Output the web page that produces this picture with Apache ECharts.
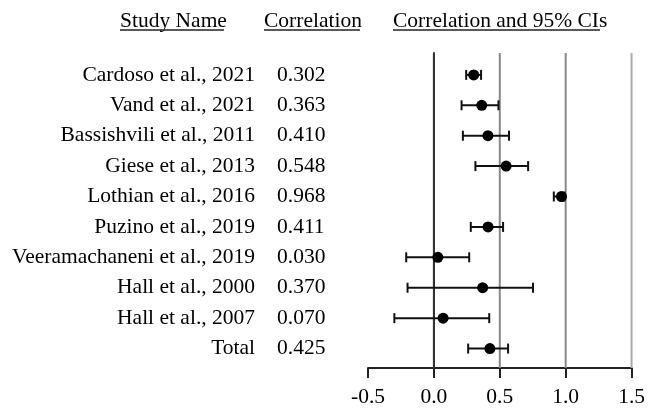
<!DOCTYPE html>
<html>
<head>
<meta charset="utf-8">
<script src="https://cdn.jsdelivr.net/npm/echarts@6/dist/echarts.min.js"></script>
<style>html,body{margin:0;padding:0;background:#fff}#c{width:648px;height:412px}</style>
</head>
<body>
<div id="c"></div>
<script>
var studyNames = ['Cardoso et al., 2021','Vand et al., 2021','Bassishvili et al., 2011','Giese et al., 2013','Lothian et al., 2016','Puzino et al., 2019','Veeramachaneni et al., 2019','Hall et al., 2000','Hall et al., 2007','Total'];
var correlations = [0.302, 0.363, 0.410, 0.548, 0.968, 0.411, 0.030, 0.370, 0.070, 0.425];
var ciLower = [0.245, 0.21, 0.22, 0.315, 0.91, 0.28, -0.21, -0.20, -0.30, 0.26];
var ciUpper = [0.358, 0.49, 0.57, 0.715, 0.99, 0.525, 0.268, 0.752, 0.42, 0.563];
var xTicks = [-0.5, 0.0, 0.5, 1.0, 1.5];
var headers = ['Study Name', 'Correlation', 'Correlation and 95% CIs'];

var FONT = '"Liberation Serif", "Times New Roman", serif';
var FS = '21.5px ';
var chart = echarts.init(document.getElementById('c'), null, {renderer: 'canvas'});

var rows = studyNames.map(function (n, i) { return [i, correlations[i], ciLower[i], ciUpper[i]]; });
var xMin = xTicks[0], xMax = xTicks[xTicks.length - 1];

function gridLineColor(v) {
  if (v <= 0) return '#333';
  if (v >= 1.5) return '#aaa';
  return '#888';
}

var option = {
  animation: false,
  backgroundColor: '#fff',
  grid: {left: 368, right: 13.7, top: 53, bottom: 44, containLabel: false},
  xAxis: {
    type: 'value', min: xMin, max: xMax, interval: 0.5,
    axisLine: {show: true, onZero: false, lineStyle: {color: '#222', width: 2}},
    axisTick: {show: true, length: 10, lineStyle: {color: '#222', width: 2}},
    axisLabel: {color: '#000', fontFamily: FONT, fontSize: 21.5, margin: 18,
      formatter: function (v) { return v.toFixed(1); }},
    splitLine: {show: false}
  },
  yAxis: {
    type: 'value', inverse: true, min: -0.72, max: 9.64,
    axisLine: {show: true, lineStyle: {color: '#333', width: 2}},
    axisTick: {show: false}, axisLabel: {show: false}, splitLine: {show: false}
  },
  series: [
    {
      type: 'custom', silent: true, z: 1,
      data: xTicks.slice(1).map(function (v) { return [v]; }),
      renderItem: function (params, api) {
        var v = api.value(0);
        var p1 = api.coord([v, -0.72]);
        var p2 = api.coord([v, 9.64]);
        return {type: 'line', shape: {x1: p1[0], y1: p1[1], x2: p2[0], y2: p2[1]},
          style: {stroke: gridLineColor(v), lineWidth: 2}};
      }
    },
    {
      type: 'custom', silent: true, z: 3,
      data: rows,
      renderItem: function (params, api) {
        var i = api.value(0);
        var a = api.coord([api.value(2), i]);
        var b = api.coord([api.value(3), i]);
        var h = 5;
        var st = {stroke: '#111', lineWidth: 2};
        return {type: 'group', children: [
          {type: 'line', shape: {x1: a[0], y1: a[1], x2: b[0], y2: b[1]}, style: st},
          {type: 'line', shape: {x1: a[0], y1: a[1] - h, x2: a[0], y2: a[1] + h}, style: st},
          {type: 'line', shape: {x1: b[0], y1: b[1] - h, x2: b[0], y2: b[1] + h}, style: st}
        ]};
      }
    },
    {
      type: 'scatter', z: 4, symbol: 'circle', symbolSize: 11,
      itemStyle: {color: '#000', opacity: 1},
      data: rows.map(function (r) { return [r[1], r[0]]; })
    },
    {
      type: 'custom', silent: true, z: 5,
      data: rows,
      renderItem: function (params, api) {
        var i = api.value(0);
        var p = api.coord([xMin, i]);
        return {type: 'group', children: [
          {type: 'text', x: p[0] - 113, y: p[1],
            style: {text: studyNames[i], textAlign: 'right', textVerticalAlign: 'middle',
              font: FS + FONT, fill: '#000'}},
          {type: 'text', x: p[0] - 91, y: p[1],
            style: {text: correlations[i].toFixed(3), textAlign: 'left', textVerticalAlign: 'middle',
              font: FS + FONT, fill: '#000'}}
        ]};
      }
    }
  ],
  graphic: [
    {type: 'text', left: 120, top: 10, style: {text: headers[0], font: FS + FONT, fill: '#000'}},
    {type: 'line', shape: {x1: 120, y1: 30, x2: 224, y2: 30}, style: {stroke: '#222', lineWidth: 1.5}},
    {type: 'text', left: 264, top: 10, style: {text: headers[1], font: FS + FONT, fill: '#000'}},
    {type: 'line', shape: {x1: 264, y1: 30, x2: 360, y2: 30}, style: {stroke: '#222', lineWidth: 1.5}},
    {type: 'text', left: 393, top: 10, style: {text: headers[2], font: FS + FONT, fill: '#000'}},
    {type: 'line', shape: {x1: 393, y1: 30, x2: 600, y2: 30}, style: {stroke: '#222', lineWidth: 1.5}}
  ]
};
chart.setOption(option);
</script>
</body>
</html>
